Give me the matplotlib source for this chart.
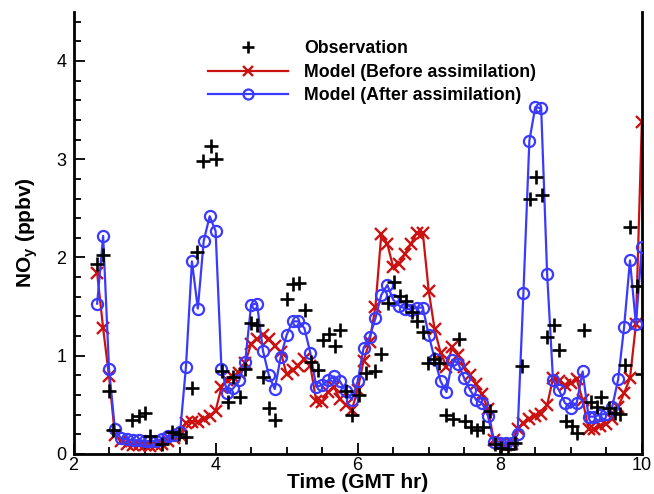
import matplotlib
matplotlib.use("Agg")
import matplotlib.pyplot as plt
from matplotlib.ticker import MultipleLocator

plt.rcParams['font.family'] = ['Liberation Sans', 'DejaVu Sans']
plt.rcParams['mathtext.fontset'] = 'custom'
plt.rcParams['mathtext.rm'] = 'Liberation Sans'
plt.rcParams['mathtext.bf'] = 'Liberation Sans:bold'

# model time (GMT hr)
model_time = [2.333, 2.417, 2.500, 2.583, 2.667, 2.750, 2.833, 2.917, 3.000, 3.083,
              3.167, 3.250, 3.333, 3.417, 3.500, 3.583, 3.667, 3.750, 3.833, 3.917,
              4.000, 4.083, 4.167, 4.250, 4.333, 4.417, 4.500, 4.583, 4.667, 4.750,
              4.833, 4.917, 5.000, 5.083, 5.167, 5.250, 5.333, 5.417, 5.500, 5.583,
              5.667, 5.750, 5.833, 5.917, 6.000, 6.083, 6.167, 6.250, 6.333, 6.417,
              6.500, 6.583, 6.667, 6.750, 6.833, 6.917, 7.000, 7.083, 7.167, 7.250,
              7.333, 7.417, 7.500, 7.583, 7.667, 7.750, 7.833, 7.917, 8.000, 8.083,
              8.167, 8.250, 8.333, 8.417, 8.500, 8.583, 8.667, 8.750, 8.833, 8.917,
              9.000, 9.083, 9.167, 9.250, 9.333, 9.417, 9.500, 9.583, 9.667, 9.750,
              9.833, 9.917, 10.000]

model_before = [1.84, 1.28, 0.79, 0.19, 0.13, 0.10, 0.09, 0.09, 0.09, 0.08,
                0.09, 0.10, 0.13, 0.16, 0.19, 0.32, 0.33, 0.33, 0.36, 0.39,
                0.44, 0.68, 0.75, 0.78, 0.82, 0.93, 1.12, 1.17, 1.21, 1.17,
                1.10, 1.04, 0.81, 0.85, 0.90, 0.97, 0.90, 0.54, 0.53, 0.63,
                0.68, 0.56, 0.50, 0.45, 0.65, 0.95, 1.14, 1.50, 2.24, 2.14,
                1.90, 1.93, 2.04, 2.14, 2.25, 2.25, 1.66, 1.27, 1.03, 0.89,
                1.09, 1.01, 0.89, 0.80, 0.71, 0.61, 0.46, 0.14, 0.10, 0.09,
                0.10, 0.25, 0.32, 0.36, 0.39, 0.41, 0.50, 0.77, 0.74, 0.70,
                0.72, 0.76, 0.55, 0.25, 0.25, 0.28, 0.31, 0.36, 0.48, 0.62,
                0.77, 1.32, 3.38]

model_after = [1.53, 2.22, 0.865, 0.25, 0.16, 0.15, 0.14, 0.14, 0.13, 0.13,
               0.135, 0.15, 0.18, 0.19, 0.22, 0.89, 1.96, 1.48, 2.17, 2.42,
               2.27, 0.86, 0.62, 0.67, 0.75, 0.94, 1.52, 1.53, 1.05, 0.80,
               0.66, 0.99, 1.21, 1.35, 1.35, 1.28, 1.03, 0.685, 0.70, 0.75,
               0.79, 0.74, 0.64, 0.55, 0.74, 1.08, 1.19, 1.38, 1.62, 1.72,
               1.57, 1.51, 1.48, 1.47, 1.49, 1.49, 1.21, 0.97, 0.74, 0.63,
               0.96, 0.92, 0.77, 0.65, 0.55, 0.52, 0.39, 0.12, 0.11, 0.11,
               0.11, 0.20, 1.64, 3.19, 3.53, 3.52, 1.83, 0.75, 0.65, 0.52,
               0.47, 0.52, 0.84, 0.38, 0.38, 0.40, 0.41, 0.48, 0.76, 1.29,
               1.97, 1.32, 2.11]

obs_time = [2.33, 2.42, 2.50, 2.56, 2.83, 2.92, 3.00, 3.08, 3.24, 3.39,
            3.48, 3.59, 3.67, 3.74, 3.82, 3.93, 4.00, 4.09, 4.17, 4.24,
            4.34, 4.42, 4.50, 4.58, 4.67, 4.75, 4.83, 5.00, 5.09, 5.17,
            5.26, 5.35, 5.44, 5.51, 5.59, 5.68, 5.75, 5.84, 5.92, 6.02,
            6.12, 6.24, 6.33, 6.42, 6.51, 6.59, 6.68, 6.76, 6.83, 6.92,
            6.99, 7.08, 7.14, 7.25, 7.34, 7.43, 7.51, 7.60, 7.68, 7.76,
            7.86, 7.94, 8.02, 8.11, 8.21, 8.32, 8.42, 8.51, 8.59, 8.67,
            8.77, 8.84, 8.93, 9.01, 9.09, 9.18, 9.29, 9.37, 9.43, 9.54,
            9.62, 9.69, 9.77, 9.84, 9.93, 10.00]
obs_value = [1.93, 2.03, 0.64, 0.24, 0.35, 0.39, 0.42, 0.18, 0.10, 0.22,
             0.20, 0.17, 0.67, 2.06, 2.98, 3.13, 3.00, 0.84, 0.53, 0.78,
             0.58, 0.86, 1.33, 1.31, 0.78, 0.47, 0.35, 1.58, 1.73, 1.74,
             1.47, 0.94, 0.85, 1.16, 1.22, 1.10, 1.26, 0.64, 0.40, 0.60,
             0.82, 0.84, 1.02, 1.54, 1.75, 1.61, 1.56, 1.45, 1.35, 1.24,
             0.93, 0.97, 0.93, 0.40, 0.36, 1.17, 0.34, 0.27, 0.24, 0.27,
             0.44, 0.10, 0.06, 0.05, 0.11, 0.90, 2.60, 2.82, 2.64, 1.19,
             1.31, 1.06, 0.34, 0.28, 0.21, 1.26, 0.53, 0.48, 0.58, 0.47,
             0.42, 0.41, 0.91, 2.31, 1.71, 0.81]

red = '#cc1111'
blue = '#3a3aff'

fig = plt.figure(figsize=(6.54, 4.94), dpi=100)
ax = fig.add_axes([0.1124, 0.081, 0.869, 0.895])

l_red, = ax.plot(model_time, model_before, color=red, lw=1.6, marker='x',
                 ms=8, mew=1.7, label='Model (Before assimilation)', zorder=2)
l_blue, = ax.plot(model_time, model_after, color=blue, lw=1.6, marker='o',
                  ms=8, mew=1.6, mfc='none', mec=blue,
                  label='Model (After assimilation)', zorder=3)
l_obs, = ax.plot(obs_time, obs_value, ls='none', marker='+', color='black',
                 ms=9.5, mew=1.9, label='Observation', zorder=4)

ax.set_xlim(2, 10)
ax.set_ylim(0, 4.5)
ax.xaxis.set_major_locator(MultipleLocator(2))
ax.xaxis.set_minor_locator(MultipleLocator(0.5))
ax.yaxis.set_major_locator(MultipleLocator(1))
ax.yaxis.set_minor_locator(MultipleLocator(0.2))
ax.tick_params(which='both', direction='in', top=False, right=False,
               labelsize=13, width=1.3)
ax.tick_params(axis='x', pad=2)
ax.tick_params(axis='y', pad=5)
ax.tick_params(which='major', length=8)
ax.tick_params(which='minor', length=5)
for s in ['left', 'bottom', 'right']:
    ax.spines[s].set_linewidth(2)
ax.spines['top'].set_visible(False)

ax.set_xlabel('Time (GMT hr)', fontsize=15, fontweight='bold', labelpad=-0.5)
ax.set_ylabel(r'NO$_\mathbf{y}$ (ppbv)', fontsize=15, fontweight='bold', labelpad=12)

leg = ax.legend(handles=[l_obs, l_red, l_blue], loc='upper left',
                bbox_to_anchor=(0.237, 0.936), frameon=False,
                prop={'weight': 'bold', 'size': 12.8}, handlelength=4.5,
                handletextpad=0.9, labelspacing=0.37, borderpad=0,
                borderaxespad=0, markerscale=0.9)

fig.savefig('out.png', dpi=100)
